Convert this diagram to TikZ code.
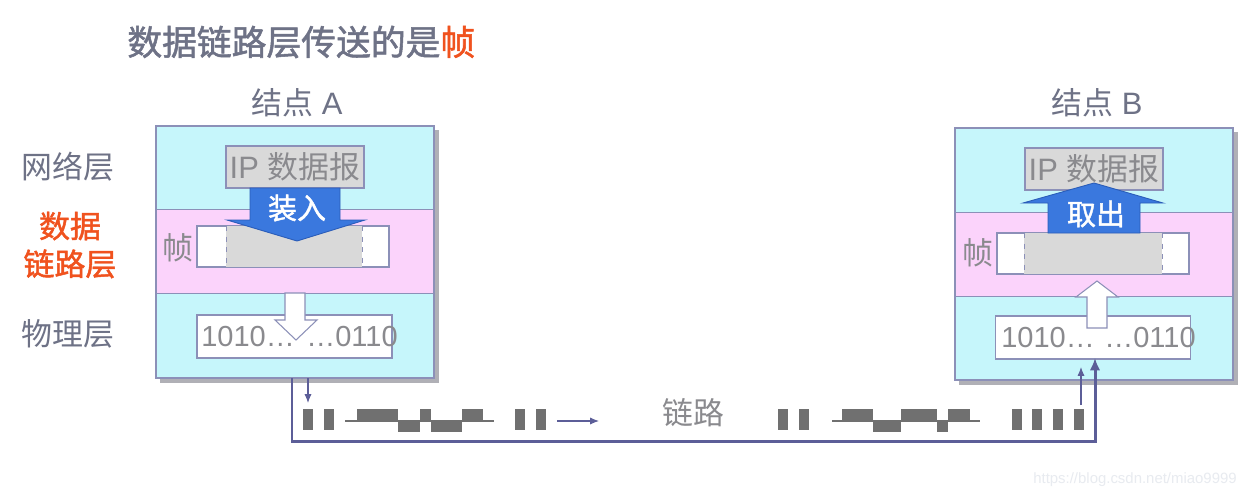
\documentclass[tikz,border=0pt]{standalone}
\usepackage{fontspec}
\setmainfont{Liberation Sans}
\newfontfamily\cjk{Noto Sans CJK SC}
\newfontfamily\cjkb{Noto Sans CJK SC}[FakeBold=1.5]
\usetikzlibrary{arrows.meta}
\definecolor{cyanl}{HTML}{C6F6FB}
\definecolor{pinkl}{HTML}{FBD3FB}
\definecolor{borderc}{HTML}{8C90B8}
\definecolor{shadowc}{HTML}{B0B0B6}
\definecolor{txtgray}{HTML}{8A8A8E}
\definecolor{lblgray}{HTML}{6E7286}
\definecolor{orangered}{HTML}{F0521E}
\definecolor{bluearrow}{HTML}{3A78DE}
\definecolor{bluedark}{HTML}{2A5CB8}
\definecolor{linkc}{HTML}{5C5E98}
\definecolor{bitc}{HTML}{707070}
\definecolor{ipfill}{HTML}{D9D9D9}
\definecolor{wmark}{HTML}{E8EBF0}
\tikzset{
  lbl/.style={text=lblgray, font=\cjk\fontsize{17.6}{21}\selectfont, inner sep=0pt},
  ipbox/.style={draw=borderc, fill=ipfill, line width=0.6pt, inner sep=0pt, minimum width=2.76cm, minimum height=0.84cm, text=txtgray, font=\fontsize{17.6}{21}\selectfont},
  bitsbox/.style={draw=borderc, fill=white, line width=0.6pt, inner sep=0pt, minimum width=3.9cm, minimum height=0.86cm},
  bitstext/.style={text=txtgray, font=\fontsize{16.5}{19}\selectfont, inner sep=0pt},
  layerline/.style={draw=borderc, line width=0.5pt},
  bluearr/.style={fill=bluearrow, draw=bluedark, line width=0.5pt},
  whitearr/.style={fill=white, draw=borderc, line width=0.6pt},
  bit/.style={fill=bitc},
  wave/.style={draw=bitc, line width=0.6pt},
  link/.style={draw=linkc, line width=1.7pt},
  thinarr/.style={draw=linkc, line width=0.6pt, -{Latex[length=5pt,width=4pt]}},
}
\begin{document}
\begin{tikzpicture}[x=0.02cm,y=-0.02cm]
\useasboundingbox[fill=white] (0,0) rectangle (1252,498);

% title
\node[anchor=west, inner sep=0pt, text=lblgray, font=\cjkb\fontsize{19.8}{23}\selectfont] (title) at (127,42) {数据链路层传送的是\textcolor{orangered}{帧}};

% left labels
\node[lbl] (net) at (68,167) {网络层};
\node[lbl, text=orangered, font=\cjkb\fontsize{17.6}{21.5}\selectfont, align=center] (dl) at (70,245) {数据\\链路层};
\node[lbl] (phy) at (68,334) {物理层};

% ===== Node A =====
\node[lbl, font=\fontsize{17.6}{21}\selectfont] (nameA) at (297,103) {{\cjk 结点} A};
\fill[shadowc] (160,130) rectangle (439,383);
\fill[cyanl] (156,126) rectangle (434,209);
\fill[pinkl] (156,209) rectangle (434,293);
\fill[cyanl] (156,293) rectangle (434,378);
\draw[layerline] (156,209) -- (434,209) (156,293) -- (434,293);
\node[draw=borderc, line width=0.8pt, inner sep=0pt, minimum width=5.56cm, minimum height=5.04cm] (A) at (295,252) {};

\node[ipbox] (ipA) at (295,167) {IP {\cjk 数据报}};

% frame A
\node[draw=borderc, fill=white, line width=0.6pt, inner sep=0pt, minimum width=3.84cm, minimum height=0.82cm] (frA) at (293,246.5) {};
\fill[ipfill] (226,226) rectangle (362,267);
\draw[borderc, dashed, line width=0.5pt] (226,226) -- (226,267) (362,226) -- (362,267);
\node[lbl, text=txtgray] (zhenA) at (178,248) {帧};

% blue arrow down
\draw[bluearr] (250,188) -- (340,188) -- (340,220) -- (365,220) -- (297,241) -- (227,220) -- (250,220) -- cycle;
\node[text=white, font=\cjkb\fontsize{16.5}{20}\selectfont, inner sep=0pt] (zhuang) at (297,208) {装入};

% bits A
\node[bitsbox] (bitsA) at (294.5,336.5) {};
\node[bitstext, anchor=west] (bA1) at (201,337) {1010…};
\node[bitstext, anchor=east] (bA2) at (398,337) {…0110};
\draw[whitearr] (285,293) -- (305,293) -- (305,320) -- (317,320) -- (296,340) -- (275,320) -- (285,320) -- cycle;

% ===== Node B =====
\node[lbl, font=\fontsize{17.6}{21}\selectfont] (nameB) at (1097,103) {{\cjk 结点} B};
\fill[shadowc] (959,132) rectangle (1238,385);
\fill[cyanl] (955,128) rectangle (1233,212);
\fill[pinkl] (955,212) rectangle (1233,296);
\fill[cyanl] (955,296) rectangle (1233,380);
\draw[layerline] (955,212) -- (1233,212) (955,296) -- (1233,296);
\node[draw=borderc, line width=0.8pt, inner sep=0pt, minimum width=5.56cm, minimum height=5.04cm] (B) at (1094,254) {};

\node[ipbox] (ipB) at (1094,169) {IP {\cjk 数据报}};

% frame B
\node[draw=borderc, fill=white, line width=0.6pt, inner sep=0pt, minimum width=3.84cm, minimum height=0.82cm] (frB) at (1093,253.5) {};
\fill[ipfill] (1024,233) rectangle (1162,274);
\draw[borderc, dashed, line width=0.5pt] (1024,233) -- (1024,274) (1162,233) -- (1162,274);
\node[lbl, text=txtgray] (zhenB) at (978,253) {帧};

% blue arrow up
\draw[bluearr] (1048,233) -- (1140,233) -- (1140,203) -- (1163,203) -- (1094,183) -- (1023,203) -- (1048,203) -- cycle;
\node[text=white, font=\cjkb\fontsize{16.5}{20}\selectfont, inner sep=0pt] (quchu) at (1096,214) {取出};

% bits B
\node[bitsbox] (bitsB) at (1093,337.5) {};
\node[bitstext, anchor=west] (bB1) at (1001,338) {1010…};
\node[bitstext, anchor=east] (bB2) at (1196,338) {…0110};
\draw[whitearr] (1087,328) -- (1107,328) -- (1107,297) -- (1118,297) -- (1097,281) -- (1076,297) -- (1087,297) -- cycle;

% ===== link =====
\coordinate (ls) at (292,378);
\coordinate (le) at (1095,358);
\draw[link, -{Latex[length=7pt,width=6pt]}] (ls) -- (292,441) -| (le);

\coordinate (ta1) at (308,378);
\coordinate (ta2) at (308,403);
\draw[thinarr] (ta1) -- (ta2);
\coordinate (tb1) at (1081,405);
\coordinate (tb2) at (1081,367);
\draw[thinarr] (tb1) -- (tb2);
\coordinate (ra1) at (557,421);
\coordinate (ra2) at (599,421);
\draw[thinarr] (ra1) -- (ra2);

\node[lbl, text=txtgray] (lianlu) at (693,413) {链路};

% bits left
\fill[bit] (303,409) rectangle (313,430);
\fill[bit] (324,409) rectangle (334,430);
\draw[wave] (345,421) -- (494,421);
\fill[bit] (357,409) rectangle (398,421);
\fill[bit] (398,421) rectangle (420,432);
\fill[bit] (420,409) rectangle (431,421);
\fill[bit] (431,421) rectangle (462,432);
\fill[bit] (462,409) rectangle (483,421);
\fill[bit] (515,409) rectangle (525,430);
\fill[bit] (536,409) rectangle (546,430);

% bits right
\fill[bit] (778,409) rectangle (788,430);
\fill[bit] (799,409) rectangle (809,430);
\draw[wave] (832,421) -- (980,421);
\fill[bit] (842,409) rectangle (873,421);
\fill[bit] (873,421) rectangle (901,432);
\fill[bit] (901,409) rectangle (937,421);
\fill[bit] (937,421) rectangle (948,432);
\fill[bit] (948,409) rectangle (970,421);
\fill[bit] (1012,409) rectangle (1022,430);
\fill[bit] (1032,409) rectangle (1042,430);
\fill[bit] (1053,409) rectangle (1063,430);
\fill[bit] (1074,409) rectangle (1084,430);

% watermark
\node[text=wmark, font=\fontsize{8.5}{10}\selectfont, inner sep=0pt] (wm) at (1135,480) {https://blog.csdn.net/miao9999};
\end{tikzpicture}
\end{document}
